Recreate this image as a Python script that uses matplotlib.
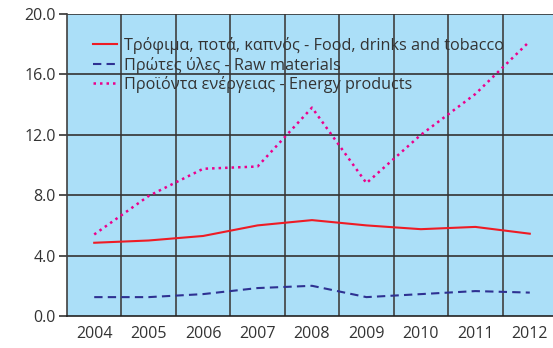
import matplotlib
matplotlib.use("Agg")
import matplotlib.pyplot as plt
import numpy as np

years = ["2004", "2005", "2006", "2007", "2008", "2009", "2010", "2011", "2012"]
food = [4.85, 5.0, 5.3, 6.0, 6.35, 6.0, 5.75, 5.9, 5.45]
raw = [1.25, 1.25, 1.45, 1.85, 2.0, 1.25, 1.45, 1.65, 1.55]
energy = [5.4, 7.95, 9.75, 9.9, 13.8, 8.8, 12.0, 14.7, 18.2]

labels = [
    "Τρόφιμα, ποτά, καπνός - Food, drinks and tobacco",
    "Πρώτες ύλες - Raw materials",
    "Προϊόντα ενέργειας - Energy products",
]
yticks = [0, 4, 8, 12, 16, 20]

plt.rcParams["font.family"] = ["Open Sans", "DejaVu Sans"]

fig = plt.figure(figsize=(5.53, 3.48), dpi=100)
ax = fig.add_axes([67 / 553, 1 - 316 / 348, 490 / 553, (316 - 14) / 348])
ax.set_facecolor("#abdff8")

x = np.arange(len(years))
ax.plot(x, food, color="#ee1c25", lw=1.5, label=labels[0])
ax.plot(x, raw, color="#2e3192", lw=1.5, ls=(0, (4, 2.5)), label=labels[1])
ax.plot(x, energy, color="#ec008c", lw=1.8, ls=(0, (1, 1.6)), label=labels[2])

ax.set_xlim(-0.5, len(years) - 0.5)
ax.set_ylim(0, 20)
ax.set_yticks(yticks)
ax.set_yticklabels([f"{v:.1f}" for v in yticks])
ax.set_xticks(x)
ax.set_xticklabels(years)

for b in np.arange(0.5, len(years) - 0.5, 1.0):
    ax.axvline(b, color="#404040", lw=1.2, zorder=1)
for v in yticks[1:]:
    ax.axhline(v, color="#333333", lw=1.2, zorder=1)

for s in ["top", "right"]:
    ax.spines[s].set_visible(False)
ax.spines["left"].set_color("#404040")
ax.spines["left"].set_linewidth(1.2)
ax.spines["bottom"].set_color("#222222")
ax.spines["bottom"].set_linewidth(1.2)

ax.tick_params(axis="y", direction="out", length=6, width=1.2, color="#333333",
               labelsize=11.5, labelcolor="#333333", pad=2)
ax.tick_params(axis="x", length=0, labelsize=11.5, labelcolor="#333333", pad=7)

leg = ax.legend(loc="upper left", bbox_to_anchor=(0.04, 0.945), frameon=False,
                fontsize=11.7, handlelength=1.45, handletextpad=0.45,
                labelspacing=0.15, borderaxespad=0)
for t in leg.get_texts():
    t.set_color("#333333")

fig.savefig("out.png", dpi=100)
